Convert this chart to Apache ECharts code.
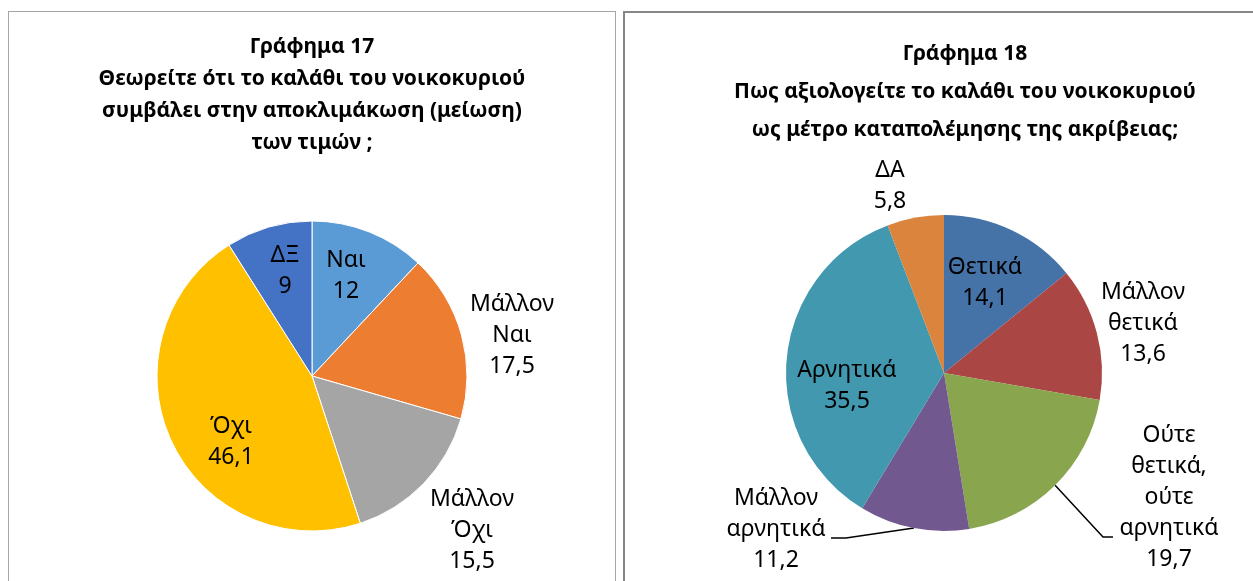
<!DOCTYPE html>
<html>
<head>
<meta charset="utf-8">
<script src="https://cdn.jsdelivr.net/npm/echarts@6/dist/echarts.min.js"></script>
<style>
  html, body { margin: 0; padding: 0; background: #fff; overflow: hidden; width: 1253px; height: 581px; }
  .panel { position: absolute; background: #fff; }
  #chart17 { left: 8px; top: 11px; width: 606px; height: 620px; border: 1px solid #a6a6a6; }
  #chart18 { left: 623px; top: 11px; width: 680px; height: 620px; border: 2px solid #868686; }
</style>
</head>
<body>
<div id="chart17" class="panel"></div>
<div id="chart18" class="panel"></div>
<script>
// Γράφημα 17
var names17 = ['Ναι', 'Μάλλον\nΝαι', 'Μάλλον\nΌχι', 'Όχι', 'ΔΞ'];
var values17 = [12, 17.5, 15.5, 46.1, 9];
var colors17 = ['#5b9bd5', '#ed7d31', '#a5a5a5', '#ffc000', '#4472c4'];
// θέσεις ετικετών (px μέσα στο πλαίσιο)
var labelPos17 = [[337, 264], [503, 323], [463, 518], [222, 430], [276, 259]];

// Γράφημα 18
var names18 = ['Θετικά', 'Μάλλον\nθετικά', 'Ούτε\nθετικά,\nούτε\nαρνητικά', 'Μάλλον\nαρνητικά', 'Αρνητικά', 'ΔΑ'];
var values18 = [14.1, 13.6, 19.7, 11.2, 35.5, 5.8];
var colors18 = ['#4572a7', '#aa4643', '#89a54e', '#71588f', '#4198af', '#db843d'];
var labelPos18 = [[360, 270], [518, 310], [544, 484], [151, 516], [222, 373], [265, 173]];
// γραμμές οδηγοί: [γωνία, τέλος]
var guide18 = [null, null, [[478, 524], [488, 524]], null, null, null];
guide18[3] = [[221, 525], [206, 525]];

var FONT = '"Noto Sans", "Open Sans", sans-serif';

function fmt(v) {
    return String(v).replace('.', ',');
}

function makeData(names, values, colors, guides) {
    return names.map(function (n, i) {
        var line = guides && guides[i];
        return {
            name: n,
            value: values[i],
            itemStyle: { color: colors[i] },
            label: { position: line ? 'outside' : 'inside' },
            labelLine: { show: !!line }
        };
    });
}

// σημείο στην περιφέρεια στη μέση της φέτας
function edgePoint(values, idx, center, r) {
    var total = values.reduce(function (a, b) { return a + b; }, 0);
    var before = 0;
    for (var i = 0; i < idx; i++) before += values[i];
    var a = (before + values[idx] / 2) / total * 2 * Math.PI;
    return [center[0] + r * Math.sin(a), center[1] - r * Math.cos(a)];
}

function pieOption(titleText, titleTop, titleLH, center, radius, names, values, colors, labelPos, guides, border) {
    return {
        animation: false,
        title: {
            text: titleText,
            left: 'center',
            top: titleTop,
            padding: 0,
            textStyle: {
                fontFamily: FONT,
                fontSize: 21,
                fontWeight: 'bold',
                color: '#000',
                lineHeight: titleLH
            }
        },
        series: [{
            type: 'pie',
            center: center,
            radius: radius,
            startAngle: 90,
            clockwise: true,
            avoidLabelOverlap: false,
            itemStyle: border,
            label: {
                show: true,
                color: '#000',
                fontFamily: FONT,
                fontSize: 23,
                lineHeight: 31,
                align: 'center',
                formatter: function (p) { return p.name + '\n' + fmt(p.value); }
            },
            labelLine: {
                lineStyle: { color: '#000', width: 1.5 }
            },
            emphasis: { disabled: true },
            labelLayout: function (p) {
                var i = p.dataIndex;
                var pos = labelPos[i];
                var res = { x: pos[0], y: pos[1], align: 'center', verticalAlign: 'middle' };
                if (guides && guides[i]) {
                    res.labelLinePoints = [edgePoint(values, i, center, radius), guides[i][0], guides[i][1]];
                }
                return res;
            },
            data: makeData(names, values, colors, guides)
        }]
    };
}

var chart17 = echarts.init(document.getElementById('chart17'));
chart17.setOption(pieOption(
    'Γράφημα 17\nΘεωρείτε ότι το καλάθι του νοικοκυριού\nσυμβάλει στην αποκλιμάκωση (μείωση)\nτων τιμών ;',
    19, 32, [303, 364], 155,
    names17, values17, colors17, labelPos17, null,
    { borderColor: '#fff', borderWidth: 1 }
));

var chart18 = echarts.init(document.getElementById('chart18'));
chart18.setOption(pieOption(
    'Γράφημα 18\nΠως αξιολογείτε το καλάθι του νοικοκυριού\nως μέτρο καταπολέμησης της ακρίβειας;',
    22, 38, [319, 360], 158,
    names18, values18, colors18, labelPos18, guide18,
    { borderWidth: 0 }
));
</script>
</body>
</html>
